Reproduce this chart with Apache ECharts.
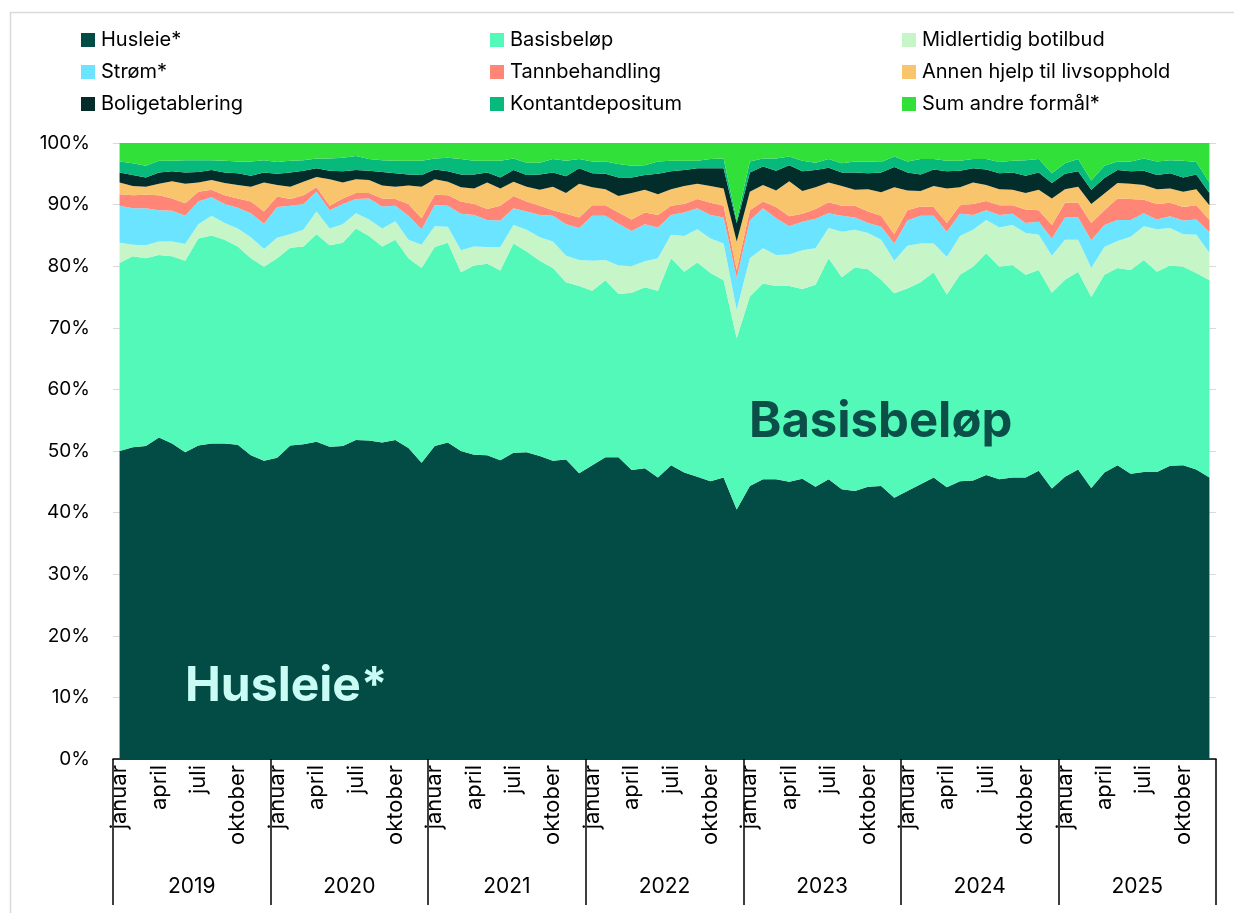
<!DOCTYPE html>
<html>
<head>
<meta charset="utf-8">
<script src="https://cdn.jsdelivr.net/npm/echarts@6/dist/echarts.min.js"></script>
<style>
  html, body { margin: 0; padding: 0; background: #fff; }
  #chart { width: 1234px; height: 913px; }
</style>
</head>
<body>
<div id="chart"></div>
<script>
// months jan 2019 - des 2025, andel i prosent
var monthNames = ["januar","februar","mars","april","mai","juni","juli","august","september","oktober","november","desember"];
var years = ["2019","2020","2021","2022","2023","2024","2025"];

var husleie = [50.0,50.6,50.8,52.2,51.2,49.8,50.9,51.2,51.2,51.0,49.3,48.4,
  48.9,50.9,51.1,51.5,50.7,50.8,51.8,51.7,51.4,51.8,50.5,48.1,
  50.8,51.4,50.0,49.4,49.3,48.5,49.7,49.8,49.2,48.4,48.6,46.4,
  47.7,49.0,49.0,46.9,47.2,45.7,47.7,46.5,45.8,45.1,45.7,40.5,
  44.3,45.4,45.4,45.0,45.5,44.2,45.4,43.8,43.5,44.2,44.3,42.4,
  43.5,44.6,45.7,44.1,45.1,45.2,46.1,45.4,45.7,45.7,46.8,43.9,
  45.8,47.0,44.0,46.5,47.7,46.3,46.6,46.6,47.6,47.7,47.0,45.7];
var basisbelop = [30.5,31.0,30.5,29.6,30.4,31.1,33.6,33.8,33.1,32.2,32.0,31.5,
  32.4,32.1,32.1,33.7,32.7,33.0,34.3,33.2,31.8,32.5,30.8,31.6,
  32.3,32.4,29.0,30.7,31.1,30.8,34.0,32.6,31.7,31.3,28.8,30.4,
  28.3,28.7,26.5,28.8,29.4,30.3,33.6,32.6,34.8,33.8,32.0,27.8,
  30.8,31.8,31.4,31.8,30.8,32.8,35.9,34.4,36.3,35.3,33.5,33.2,
  32.9,32.8,33.3,31.3,33.5,34.7,36.0,34.5,34.5,32.9,32.6,31.8,
  32.0,32.1,31.0,32.1,32.0,33.1,34.4,32.5,32.5,32.2,31.9,32.0];
var midlertidig = [3.3,1.9,2.1,2.2,2.4,2.7,2.3,3.2,2.7,2.9,3.4,2.9,
  3.3,2.2,2.7,3.7,2.7,3.0,2.5,2.7,2.9,3.0,3.0,3.8,
  3.4,2.6,3.6,3.1,2.7,3.8,3.0,3.5,3.8,4.3,4.3,4.2,
  4.9,3.3,4.6,4.3,4.2,5.3,3.8,5.8,5.4,5.6,6.0,4.6,
  6.2,5.7,5.0,5.1,6.3,5.9,4.9,7.4,6.1,5.9,6.5,5.3,
  6.9,6.3,4.7,6.1,6.3,6.0,5.4,6.4,6.5,6.8,5.7,6.0,
  6.5,5.2,4.7,4.5,4.4,5.4,5.5,6.9,6.1,5.3,6.2,4.5];
var strom = [6.0,5.9,6.0,5.1,5.0,4.6,3.7,3.0,3.1,3.4,3.9,4.1,
  5.0,4.6,4.2,3.2,3.0,3.3,2.3,3.4,3.6,2.5,3.9,2.5,
  3.4,3.4,5.9,5.1,4.4,4.3,2.7,3.0,3.6,4.2,5.1,5.2,
  7.3,7.2,6.8,5.7,6.0,5.0,3.2,3.8,3.4,3.8,4.2,5.2,
  6.1,6.5,6.0,4.6,4.6,4.8,2.4,2.6,2.0,1.6,2.1,2.8,
  4.1,4.5,4.5,4.1,3.6,2.4,1.6,2.0,1.8,1.6,2.1,2.8,
  3.6,3.6,4.5,3.6,3.4,2.7,2.1,1.6,1.9,2.2,2.5,3.3];
var tannbehandling = [1.9,2.1,2.2,2.4,2.0,2.0,1.6,1.2,1.4,1.5,1.9,2.0,
  1.7,1.1,1.4,0.7,0.7,0.9,1.0,0.9,1.3,1.1,1.9,1.8,
  1.7,1.7,2.0,1.8,1.8,2.4,2.0,1.6,1.5,0.9,1.7,1.7,
  1.7,1.7,1.8,1.9,1.9,2.0,1.5,1.4,1.5,2.0,1.9,1.3,
  1.7,1.1,1.8,1.6,1.3,1.6,1.8,1.6,1.9,1.9,1.8,1.5,
  1.7,1.5,1.4,1.4,1.4,1.8,1.5,1.6,1.4,2.2,1.9,2.2,
  2.4,2.4,2.8,2.4,3.5,3.4,2.2,2.5,2.2,2.2,2.3,2.0];
var annenHjelp = [1.9,1.5,1.3,1.9,2.8,3.2,1.5,1.6,2.0,2.2,2.4,4.7,
  1.9,2.0,2.2,1.7,4.3,2.6,2.2,2.1,2.1,2.0,3.0,5.1,
  2.5,2.2,2.3,2.5,4.3,2.8,2.3,2.4,2.6,3.8,3.4,5.5,
  2.9,2.6,2.7,4.3,3.7,3.4,2.7,2.9,2.5,2.7,2.8,4.6,
  3.0,2.7,2.7,5.7,3.7,3.5,3.2,3.2,2.6,3.6,3.8,7.6,
  3.2,2.5,3.4,5.6,2.9,3.5,2.6,2.6,2.5,2.7,3.3,4.3,
  2.2,2.6,3.1,2.7,2.5,2.5,2.4,2.4,2.3,2.5,2.6,2.4];
var boligetablering = [1.6,1.8,1.5,1.8,1.6,1.8,1.7,1.6,1.7,1.9,1.8,1.6,
  1.8,2.3,1.8,1.4,1.4,1.8,1.5,1.5,2.2,2.2,1.8,1.9,
  1.6,1.7,2.1,2.3,1.6,1.8,1.9,1.9,2.5,2.3,2.7,2.5,
  2.3,2.5,3.0,2.5,2.4,3.3,2.9,2.6,2.5,2.9,3.3,3.0,
  3.1,3.0,3.2,2.6,3.2,2.8,2.4,2.2,2.8,2.6,3.2,3.3,
  2.9,2.7,2.7,2.8,2.7,2.3,2.5,2.6,2.8,2.8,2.8,2.5,
  2.5,2.5,2.3,2.5,2.1,2.0,2.3,2.3,2.5,2.3,2.4,2.0];
var kontantdepositum = [1.8,1.9,1.9,1.9,1.7,2.0,1.9,1.6,1.9,1.9,2.3,2.0,
  1.9,1.9,1.7,1.6,2.0,2.2,2.3,1.9,1.9,2.0,2.2,2.3,
  1.8,2.2,2.5,2.2,1.9,2.7,1.9,2.0,1.9,2.2,2.5,1.5,
  1.9,2.0,2.2,1.9,1.6,2.0,1.7,1.5,1.2,1.5,1.6,0.5,
  1.8,1.3,2.0,1.4,1.7,1.2,1.4,1.5,1.8,1.9,1.7,1.7,
  1.8,2.5,1.7,1.7,1.6,1.5,1.7,1.8,1.9,2.5,2.2,1.6,
  1.7,2.0,1.5,2.0,1.4,1.6,2.0,2.2,2.1,2.7,2.0,1.7];
var sumAndre = [3.0,3.3,3.7,2.9,2.9,2.8,2.8,2.8,2.9,3.0,3.0,2.8,
  3.1,2.9,2.8,2.5,2.5,2.4,2.1,2.6,2.8,2.9,2.9,2.9,
  2.5,2.4,2.6,2.9,2.9,2.9,2.5,3.2,3.2,2.6,2.9,2.6,
  3.0,3.0,3.4,3.7,3.6,3.0,2.9,2.9,2.9,2.6,2.5,12.5,
  3.0,2.5,2.5,2.2,2.9,3.2,2.6,3.3,3.0,3.0,3.1,2.2,
  3.0,2.6,2.6,2.9,2.9,2.6,2.6,3.1,2.9,2.8,2.6,4.9,
  3.3,2.6,6.1,3.7,3.0,3.0,2.5,3.0,2.8,2.9,3.1,6.4];

var seriesNames = ["Husleie*","Basisbeløp","Midlertidig botilbud","Strøm*","Tannbehandling",
  "Annen hjelp til livsopphold","Boligetablering","Kontantdepositum","Sum andre formål*"];
var seriesData = [husleie,basisbelop,midlertidig,strom,tannbehandling,annenHjelp,boligetablering,kontantdepositum,sumAndre];
var colors = ["#034c46","#52f9b8","#c6f5c8","#6be5ff","#ff8577","#f8c56c","#032d2a","#07b97a","#31e13a"];

var months = [];
years.forEach(function(y){ monthNames.forEach(function(m){ months.push(m); }); });

var font = "Inter";
var chart = echarts.init(document.getElementById("chart"));

function legendCol(left, names){
  return {
    orient: "vertical", left: left, top: 25,
    itemWidth: 14, itemHeight: 14, itemGap: 12,
    icon: "rect",
    textStyle: { fontFamily: font, fontSize: 20, color: "#000", padding: [0,0,0,1] },
    data: names
  };
}

var series = seriesNames.map(function(name, i){
  return {
    name: name, type: "line", stack: "total",
    xAxisIndex: 0,
    data: seriesData[i],
    symbol: "none",
    lineStyle: { width: 0 },
    areaStyle: { color: colors[i], opacity: 1 },
    itemStyle: { color: colors[i] },
    emphasis: { disabled: true },
    animation: false
  };
});

var option = {
  animation: false,
  color: colors,
  legend: [
    legendCol(76, ["Husleie*","Strøm*","Boligetablering"]),
    legendCol(485, ["Basisbeløp","Tannbehandling","Kontantdepositum"]),
    legendCol(897, ["Midlertidig botilbud","Annen hjelp til livsopphold","Sum andre formål*"])
  ],
  grid: { left: 113, right: 18, top: 143, bottom: 154 },
  xAxis: [
    {
      type: "category", data: months, position: "bottom",
      axisLine: { lineStyle: { color: "#000", width: 1.5 } },
      axisTick: { show: false },
      axisLabel: {
        interval: function(i){ return i % 3 === 0; },
        rotate: 90, margin: 6,
        fontFamily: font, fontSize: 22, color: "#000"
      },
      splitLine: { show: false }
    },
    {
      type: "category", data: years, position: "bottom",
      axisLine: { show: false },
      axisTick: { show: true, length: 146, lineStyle: { color: "#000", width: 1.5 } },
      axisLabel: { margin: 117, fontFamily: font, fontSize: 21, color: "#000" },
      splitLine: { show: false }
    }
  ],
  yAxis: {
    type: "value", min: 0, max: 100, interval: 10,
    axisLine: { show: false }, axisTick: { show: false },
    axisLabel: { formatter: "{value}%", margin: 23, fontFamily: font, fontSize: 19, color: "#000" },
    splitLine: { lineStyle: { color: "#d9d9d9", width: 1 } }
  },
  graphic: [
    { type: "rect", silent: true, z: -1,
      shape: { x: 10.5, y: 12.5, width: 1300, height: 1000 },
      style: { fill: null, stroke: "#d9d9d9", lineWidth: 1.5 } },
    { type: "text", left: 185, top: 663, z: 100,
      style: { text: "Husleie*", fontFamily: font, fontWeight: "bold", fontSize: 48, fill: "#c8fcf5" } },
    { type: "text", left: 749, top: 398, z: 100,
      style: { text: "Basisbeløp", fontFamily: font, fontWeight: "bold", fontSize: 49, fill: "#0b4f48" } }
  ],
  series: series
};

chart.setOption(option);
</script>
</body>
</html>
